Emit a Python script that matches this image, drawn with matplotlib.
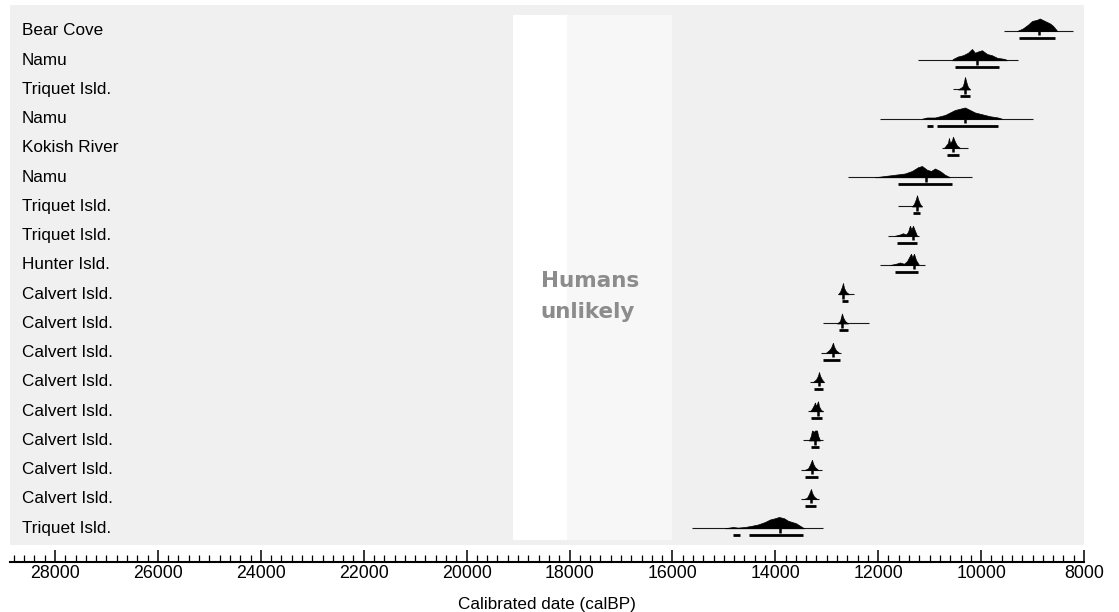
import numpy as np
import matplotlib
matplotlib.use("Agg")
import matplotlib.pyplot as plt
from matplotlib.ticker import MultipleLocator

plt.rcParams['font.family'] = ['Liberation Sans', 'DejaVu Sans']

# site labels, top to bottom
sites = ["Bear Cove", "Namu", "Triquet Isld.", "Namu", "Kokish River", "Namu",
         "Triquet Isld.", "Triquet Isld.", "Hunter Isld.", "Calvert Isld.",
         "Calvert Isld.", "Calvert Isld.", "Calvert Isld.", "Calvert Isld.",
         "Calvert Isld.", "Calvert Isld.", "Calvert Isld.", "Triquet Isld."]

# full probability range (thin line), calBP
range_old = [9555, 11227, 10547, 11965, 10760, 12587, 11616, 11810, 11965,
             12762, 13073, 13112, 13326, 13365, 13462, 13501, 13501, 15619]
range_young = [8214, 9283, 10216, 8990, 10255, 10177, 11149, 11207, 11091,
               12470, 12179, 12723, 13054, 13073, 13073, 13093, 13151, 13073]

# highest density ranges (thick bars), calBP
hpd = [
    [(9264, 8564)],
    [(10508, 9652)],
    [(10410, 10216)],
    [(11052, 10935), (10858, 9672)],
    [(10663, 10430)],
    [(11616, 10566)],
    [(11324, 11188)],
    [(11635, 11246)],
    [(11674, 11227)],
    [(12704, 12587)],
    [(12762, 12587)],
    [(13073, 12743)],
    [(13248, 13073)],
    [(13306, 13093)],
    [(13306, 13151)],
    [(13423, 13170)],
    [(13423, 13209)],
    [(14822, 14687), (14512, 13462)],
]

# median marks, calBP
medians = [8875, 10080, 10313, 10313, 10547, 11072, 11246, 11324, 11305,
           12684, 12704, 12879, 13151, 13170, 13228, 13287, 13306, 13909]

# probability distributions: dates (calBP) and relative density
dist_dates = [
    [9300, 9190, 9090, 9010, 8910, 8860, 8760, 8660, 8600, 8520],
    [10566, 10547, 10450, 10352, 10255, 10177, 10119, 10061, 9983, 9886, 9789, 9691, 9536, 9497],
    [10450, 10410, 10372, 10352, 10333, 10313, 10294, 10274, 10255, 10216],
    [11149, 11052, 10897, 10800, 10702, 10605, 10508, 10411, 10313, 10216, 10119, 10022, 9925, 9828, 9672, 9594],
    [10722, 10683, 10644, 10625, 10605, 10566, 10547, 10508, 10469, 10411],
    [12063, 11868, 11674, 11480, 11344, 11227, 11149, 11052, 10974, 10897, 10800, 10702, 10605],
    [11344, 11305, 11266, 11246, 11227, 11188, 11149],
    [11674, 11577, 11519, 11460, 11421, 11383, 11354, 11324, 11286, 11246],
    [11771, 11655, 11577, 11499, 11441, 11402, 11363, 11334, 11305, 11266, 11207],
    [12781, 12742, 12704, 12684, 12665, 12626, 12568],
    [12801, 12742, 12723, 12704, 12684, 12645, 12587],
    [13015, 12957, 12918, 12879, 12860, 12821, 12762],
    [13267, 13209, 13170, 13151, 13131, 13093, 13054],
    [13326, 13287, 13248, 13228, 13209, 13189, 13170, 13151, 13112, 13073],
    [13345, 13306, 13287, 13248, 13228, 13189, 13170, 13131],
    [13423, 13365, 13326, 13287, 13267, 13228, 13170],
    [13442, 13384, 13345, 13306, 13287, 13248, 13189],
    [14978, 14822, 14725, 14589, 14454, 14337, 14200, 14103, 14006, 13928, 13831, 13753, 13676, 13598, 13520, 13442],
]
dist_dens = [
    [0, 2, 5, 8, 9, 10, 8, 6, 4, 0],
    [0, 1, 3, 4, 6, 9, 6, 7, 8, 5, 4, 2, 1, 0],
    [0, 1, 2, 3, 6, 10, 7, 4, 2, 0],
    [0, 1, 1, 2, 3, 5, 7, 8, 9, 7, 5, 4, 3, 2, 1, 0],
    [0, 2, 4, 8, 4, 6, 9, 5, 2, 0],
    [0, 1, 2, 3, 5, 8, 9, 6, 5, 7, 5, 2, 0],
    [0, 2, 6, 9, 6, 2, 0],
    [0, 1, 2, 1, 3, 8, 5, 8, 4, 0],
    [0, 1, 2, 1, 3, 6, 9, 6, 9, 4, 0],
    [0, 2, 6, 9, 5, 2, 0],
    [0, 2, 5, 8, 5, 2, 0],
    [0, 2, 4, 8, 5, 2, 0],
    [0, 2, 5, 8, 5, 2, 0],
    [0, 2, 5, 7, 4, 6, 8, 4, 1, 0],
    [0, 4, 8, 7, 8, 8, 4, 0],
    [0, 1, 4, 8, 5, 2, 0],
    [0, 1, 4, 8, 5, 2, 0],
    [0, 1, 0.5, 1, 2, 3, 5, 7, 8, 9, 8, 6, 5, 4, 2, 0],
]

W, H = 1119, 612
fig = plt.figure(figsize=(W / 100, H / 100), dpi=100)
# axes in pixel-like data units vertically (top = 5, spine = 562)
ax = fig.add_axes([10 / W, 1 - 562 / H, 1074 / W, 557 / H])
ax.set_xlim(28875, 8000)
ax.set_ylim(562, 5)

# background panels
ax.axhspan(5, 545, color='#f0f0f0', zorder=0, lw=0)
ax.fill_betweenx([15, 540], 19100, 18050, color='white', zorder=1, lw=0)
ax.fill_betweenx([15, 540], 18050, 16000, color='#f7f7f7', zorder=1, lw=0)

ax.text(18560, 287, "Humans", fontsize=15.5, fontweight='bold', color='#8c8c8c',
        family='DejaVu Sans', va='baseline', ha='left', zorder=3)
ax.text(18560, 318, "unlikely", fontsize=15.5, fontweight='bold', color='#8c8c8c',
        family='DejaVu Sans', va='baseline', ha='left', zorder=3)

row_step = 29.25
scale = 1.25  # pixels per density unit
for i, name in enumerate(sites):
    y0 = 31 + i * row_step
    ax.text(0.0112, y0, name, transform=ax.get_yaxis_transform(), fontsize=12.3,
            va='center', ha='left', color='black', zorder=3)
    ax.hlines(y0, range_old[i], range_young[i], color='#1a1a1a', lw=0.8, zorder=3)
    d = np.array(dist_dates[i])
    p = np.array(dist_dens[i]) * scale
    ax.fill_between(d, y0, y0 - p, color='black', lw=0.5, zorder=4)
    ax.vlines(medians[i], y0, y0 + 4.5, color='black', lw=1.8, zorder=4)
    for a, b in hpd[i]:
        ax.hlines(y0 + 7, a, b, color='black', lw=2.0, zorder=4)

# axis styling
for s in ['top', 'left', 'right']:
    ax.spines[s].set_visible(False)
ax.spines['bottom'].set_linewidth(1.5)
ax.set_yticks([])
ax.xaxis.set_major_locator(MultipleLocator(2000))
ax.xaxis.set_minor_locator(MultipleLocator(200))
ax.tick_params(axis='x', which='major', direction='in', length=8.5, width=1.1,
               labelsize=12.8, pad=2)
ax.tick_params(axis='x', which='minor', direction='in', length=5, width=0.9)
ax.set_xlabel("Calibrated date (calBP)", fontsize=12.3, labelpad=11)
ax.set_facecolor('white')

fig.savefig("out.png", dpi=100)
